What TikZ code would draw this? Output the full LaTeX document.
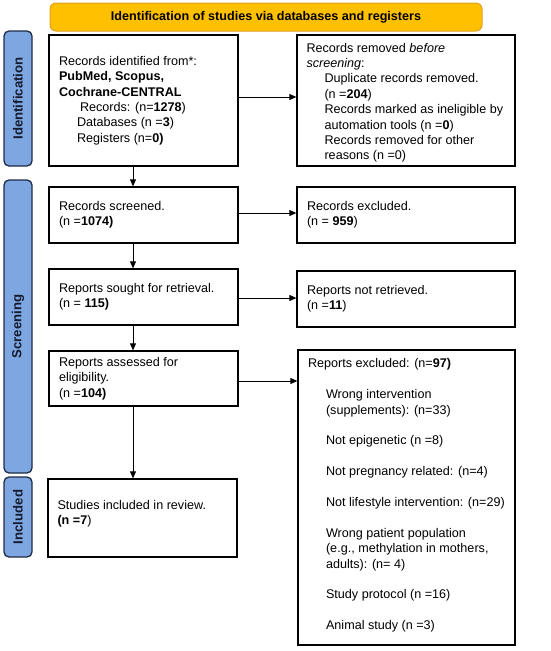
\documentclass[tikz,border=0pt]{standalone}
\usepackage{fontspec}
\setmainfont{Liberation Sans}
\usetikzlibrary{arrows.meta,calc}
\definecolor{bannerfill}{HTML}{FFC000}
\definecolor{bannerdraw}{HTML}{E0A020}
\definecolor{sidefill}{HTML}{7EA6E0}
\definecolor{sidedraw}{HTML}{1F2B45}
\definecolor{sidetext}{HTML}{141B2E}
\begin{document}
\begin{tikzpicture}[x=1pt,y=-1pt,
  font=\fontsize{12.6}{15.4}\selectfont,
  box/.style={draw=black, line width=1.3pt, fill=white, inner sep=0pt},
  side/.style={draw=sidedraw, fill=sidefill, line width=1.3pt, rounded corners=5pt, inner sep=0pt, rotate=90, text=sidetext, font=\fontsize{13.2}{15}\selectfont\bfseries},
  banner/.style={draw=bannerdraw, fill=bannerfill, line width=1pt, rounded corners=6pt, inner sep=0pt, font=\fontsize{12.6}{15}\selectfont\bfseries},
  txt/.style={inner sep=0pt, align=left},
  arr/.style={-{Triangle[length=7pt,width=6pt]}, line width=0.8pt}]
\useasboundingbox (0,0) rectangle (550,651);

% banner
\node[banner, minimum width=432pt, minimum height=28pt] (banner) at (266,17) {Identification of studies via databases and registers};

% side labels
\node[side, minimum width=135pt, minimum height=28pt] (s1) at (18,98.5) {Identification};
\node[side, minimum width=293pt, minimum height=28pt] (s2) at (18,326.5) {Screening};
\node[side, minimum width=80pt, minimum height=28pt] (s3) at (18,517) {Included};

% boxes
\node[box, minimum width=189pt, minimum height=131pt] (b1) at (143.5,100.5) {};
\node[box, minimum width=218pt, minimum height=131pt] (b2) at (406,100.5) {};
\node[box, minimum width=189pt, minimum height=56pt] (b3) at (143.5,215) {};
\node[box, minimum width=218pt, minimum height=56pt] (b4) at (406,215) {};
\node[box, minimum width=189pt, minimum height=56pt] (b5) at (143.5,297) {};
\node[box, minimum width=218pt, minimum height=56pt] (b6) at (406,299) {};
\node[box, minimum width=189pt, minimum height=55pt] (b7) at (143.5,378.5) {};
\node[box, minimum width=217pt, minimum height=295pt] (b8) at (406.5,497.5) {};
\node[box, minimum width=189pt, minimum height=78pt] (b9) at (142.5,518) {};

% texts
\node[txt, anchor=west] (t1) at ([xshift=10.5pt]b1.west) {Records identified from*:\\
\textbf{PubMed, Scopus,}\\
\textbf{Cochrane-CENTRAL}\\
\hspace*{21pt}Records: (n=\textbf{1278})\\
\hspace*{18pt}Databases (n =\textbf{3})\\
\hspace*{18pt}Registers (n=\textbf{0)}};

\node[txt, anchor=north west] (t2) at ([xshift=10pt,yshift=-8.4pt]b2.north west) {Records removed \textit{before}\\
\textit{screening}:\\
\hspace*{18pt}Duplicate records removed.\\
\hspace*{18pt}(n =\textbf{204})\\
\hspace*{18pt}Records marked as ineligible by\\
\hspace*{18pt}automation tools (n =\textbf{0})\\
\hspace*{18pt}Records removed for other\\
\hspace*{18pt}reasons (n =0)};

\node[txt, anchor=west] (t3) at ([xshift=10.5pt]b3.west) {Records screened.\\(n =\textbf{1074)}};
\node[txt, anchor=west] (t4) at ([xshift=10.5pt]b4.west) {Records excluded.\\(n = \textbf{959})};
\node[txt, anchor=west] (t5) at ([xshift=10.5pt]b5.west) {Reports sought for retrieval.\\(n = \textbf{115)}};
\node[txt, anchor=west] (t6) at ([xshift=10.5pt]b6.west) {Reports not retrieved.\\(n =\textbf{11})};
\node[txt, anchor=west] (t7) at ([xshift=10.5pt]b7.west) {Reports assessed for\\eligibility.\\(n =\textbf{104)}};

\node[txt, anchor=west] (t8) at ([xshift=10.5pt,yshift=2pt]b8.west) {Reports excluded: (n=\textbf{97)}\\[15.4pt]
\hspace*{18pt}Wrong intervention\\
\hspace*{18pt}(supplements): (n=33)\\[15.4pt]
\hspace*{18pt}Not epigenetic (n =8)\\[15.4pt]
\hspace*{18pt}Not pregnancy related: (n=4)\\[15.4pt]
\hspace*{18pt}Not lifestyle intervention: (n=29)\\[15.4pt]
\hspace*{18pt}Wrong patient population\\
\hspace*{18pt}(e.g., methylation in mothers,\\
\hspace*{18pt}adults): (n= 4)\\[15.4pt]
\hspace*{18pt}Study protocol (n =16)\\[15.4pt]
\hspace*{18pt}Animal study (n =3)};

\node[txt, anchor=north west] (t9) at ([xshift=10pt,yshift=-21.4pt]b9.north west) {Studies included in review.\\\textbf{(n =7})};

% connectors
\coordinate (h1) at ([yshift=3.5pt]b1.east);
\draw[arr] (h1) -- (h1 -| b2.west);
\coordinate (h2) at ([yshift=2pt]b3.east);
\draw[arr] (h2) -- (h2 -| b4.west);
\coordinate (h3) at ([yshift=-1pt]b5.east);
\draw[arr] (h3) -- (h3 -| b6.west);
\coordinate (h4) at ([yshift=-2.5pt]b7.east);
\draw[arr] (h4) -- (h4 -| b8.west);

\coordinate (v1) at ([xshift=-10.5pt]b1.south);
\draw[arr] (v1) -- (v1 |- b3.north);
\coordinate (v2) at ([xshift=-10.5pt]b3.south);
\draw[arr] (v2) -- (v2 |- b5.north);
\coordinate (v3) at ([xshift=-10.5pt]b5.south);
\draw[arr] (v3) -- (v3 |- b7.north);
\coordinate (v4) at ([xshift=-10.5pt]b7.south);
\draw[arr] (v4) -- (v4 |- b9.north);
\end{tikzpicture}
\end{document}
